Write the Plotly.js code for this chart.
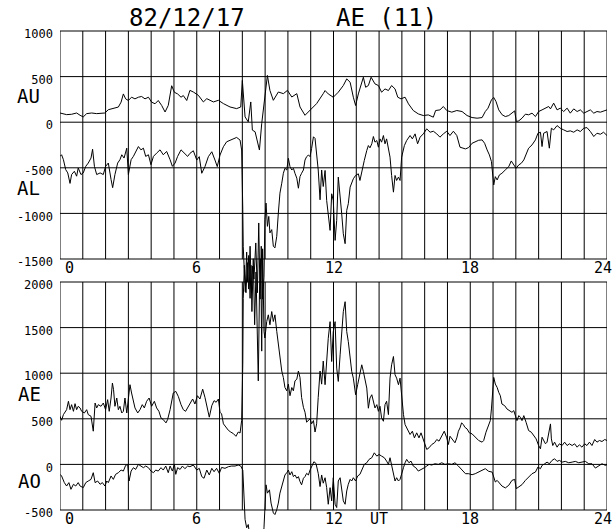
<!DOCTYPE html>
<html>
<head>
<meta charset="utf-8">
<script src="https://cdn.plot.ly/plotly-3.0.1.min.js"></script>
<style>html,body{margin:0;padding:0;background:#fff;}#chart{width:614px;height:529px;}</style>
</head>
<body>
<div id="chart"></div>
<script>
// ---------------- data (UT hours, nT) ----------------
const tAU = [0,0.15,0.29,0.51,0.73,0.88,1.02,1.17,1.39,1.61,1.83,1.97,2.12,2.27,2.41,2.56,2.68,2.78,2.88,3.00,3.14,3.29,3.44,3.58,3.73,3.88,4.02,4.17,4.31,4.46,4.61,4.75,4.90,5.02,5.16,5.31,5.41,5.56,5.70,5.85,6.07,6.29,6.44,6.73,6.95,7.17,7.46,7.75,7.93,8.00,8.12,8.26,8.37,8.44,8.56,8.63,8.75,8.85,8.99,9.10,9.21,9.36,9.58,9.80,9.98,10.17,10.39,10.53,10.75,10.97,11.26,11.55,11.63,11.77,11.99,12.21,12.43,12.58,12.73,12.87,12.97,13.09,13.24,13.31,13.41,13.53,13.65,13.82,13.97,14.11,14.26,14.41,14.55,14.70,14.82,14.96,15.14,15.29,15.50,15.72,15.94,16.16,16.38,16.48,16.67,16.82,16.97,17.19,17.41,17.64,17.86,18.08,18.30,18.52,18.66,18.78,18.93,19.03,19.13,19.25,19.40,19.54,19.69,19.83,19.95,20.02,20.13,20.27,20.42,20.56,20.71,20.86,21.00,21.15,21.30,21.44,21.52,21.66,21.81,21.95,22.10,22.25,22.39,22.54,22.69,22.83,22.98,23.12,23.27,23.42,23.56,23.71,23.85,24.00];
const AU = [101,94,83,87,101,76,58,94,101,94,101,101,137,148,159,166,220,310,256,238,274,256,274,282,256,274,220,202,238,184,112,184,400,328,310,274,292,238,349,331,295,222,258,222,240,204,167,149,167,458,58,4,222,-87,-105,-178,-305,-15,313,513,349,240,331,313,349,276,313,167,76,131,204,313,347,310,274,329,402,475,438,274,183,310,456,493,383,402,493,420,402,329,365,347,402,365,274,256,274,201,128,91,73,80,55,128,135,172,128,110,128,117,73,51,44,51,117,154,245,271,227,135,81,62,73,99,124,7,15,44,88,81,99,62,117,135,154,172,146,209,135,154,117,154,99,146,117,135,99,117,135,99,117,110,124,135];

const tAL = [0,0.07,0.15,0.25,0.34,0.44,0.51,0.63,0.73,0.80,0.92,1.02,1.13,1.24,1.36,1.43,1.51,1.61,1.76,1.90,2.00,2.12,2.24,2.31,2.41,2.53,2.63,2.71,2.81,2.93,3.00,3.12,3.22,3.33,3.44,3.55,3.66,3.76,3.88,3.99,4.10,4.24,4.39,4.53,4.68,4.83,4.93,5.05,5.16,5.31,5.46,5.60,5.70,5.85,6.00,6.11,6.22,6.36,6.51,6.66,6.80,6.90,7.02,7.17,7.31,7.53,7.75,7.90,7.97,8.02,8.04,8.09,8.16,8.22,8.28,8.34,8.40,8.45,8.51,8.59,8.66,8.72,8.78,8.83,8.89,8.95,8.99,9.04,9.10,9.16,9.21,9.29,9.36,9.43,9.51,9.58,9.65,9.73,9.80,9.87,9.95,10.02,10.09,10.17,10.24,10.31,10.39,10.46,10.53,10.60,10.68,10.75,10.82,10.90,10.97,11.04,11.12,11.19,11.26,11.33,11.41,11.48,11.55,11.63,11.70,11.77,11.85,11.92,11.99,12.07,12.14,12.21,12.29,12.36,12.43,12.51,12.58,12.65,12.73,12.87,12.97,13.09,13.16,13.27,13.35,13.46,13.53,13.60,13.68,13.75,13.82,13.90,13.97,14.04,14.11,14.19,14.26,14.33,14.41,14.48,14.55,14.63,14.70,14.77,14.85,14.92,14.99,15.11,15.21,15.36,15.46,15.58,15.69,15.80,15.94,16.09,16.24,16.38,16.53,16.67,16.82,16.97,17.11,17.26,17.41,17.55,17.79,17.93,18.08,18.22,18.37,18.52,18.63,18.74,18.84,18.93,18.99,19.03,19.10,19.18,19.28,19.39,19.54,19.69,19.80,19.91,20.01,20.13,20.24,20.35,20.46,20.56,20.71,20.86,20.97,21.08,21.15,21.22,21.37,21.47,21.56,21.66,21.81,21.95,22.10,22.25,22.39,22.54,22.69,22.83,22.98,23.12,23.27,23.42,23.56,23.71,23.85,24.00];
const AL = [-375,-357,-411,-520,-556,-671,-574,-538,-592,-502,-574,-556,-484,-448,-393,-296,-484,-574,-556,-574,-484,-448,-628,-718,-574,-448,-411,-357,-393,-285,-574,-411,-375,-321,-267,-303,-285,-375,-357,-466,-375,-339,-303,-357,-321,-411,-484,-448,-375,-303,-339,-375,-342,-313,-415,-378,-560,-487,-378,-324,-415,-487,-360,-269,-215,-189,-167,-196,-305,-960,-1360,-1650,-1870,-1540,-1830,-1360,-1870,-1578,-1720,-1324,-1870,-1105,-1940,-1360,-1940,-1700,-1069,-887,-1142,-1033,-1214,-1178,-1360,-1378,-1251,-996,-778,-669,-560,-505,-524,-396,-487,-524,-505,-560,-614,-724,-596,-560,-524,-415,-378,-360,-378,-287,-160,-178,-342,-524,-851,-524,-705,-529,-858,-1040,-1186,-785,-858,-1296,-1077,-602,-785,-1004,-1223,-1332,-967,-894,-712,-620,-584,-566,-639,-493,-420,-310,-256,-281,-237,-157,-219,-201,-274,-183,-219,-146,-237,-183,-274,-383,-584,-767,-584,-639,-602,-639,-383,-256,-201,-146,-183,-128,-237,-164,-128,-73,-110,-99,-128,-164,-128,-99,-146,-99,-146,-274,-293,-278,-231,-212,-198,-194,-231,-304,-359,-432,-597,-688,-597,-633,-578,-560,-523,-487,-425,-468,-505,-468,-450,-414,-340,-285,-249,-194,-121,-110,-267,-121,-102,-285,-66,-84,-37,-66,-84,-102,-95,-110,-84,-102,-66,-59,-102,-157,-121,-132,-110,-146];

const tAE = [0,0.07,0.15,0.22,0.29,0.37,0.44,0.51,0.59,0.66,0.73,0.80,0.88,0.95,1.07,1.17,1.24,1.36,1.46,1.54,1.61,1.68,1.80,1.90,2.00,2.09,2.16,2.24,2.30,2.35,2.41,2.49,2.56,2.63,2.71,2.78,2.85,2.93,3.00,3.07,3.14,3.22,3.29,3.41,3.51,3.61,3.70,3.80,3.91,4.02,4.14,4.24,4.34,4.43,4.53,4.65,4.72,4.83,4.90,4.97,5.08,5.19,5.31,5.41,5.51,5.63,5.70,5.82,5.92,6.03,6.14,6.26,6.36,6.47,6.55,6.66,6.76,6.85,6.95,7.02,7.09,7.17,7.28,7.39,7.49,7.61,7.72,7.82,7.90,7.97,8.02,8.04,8.09,8.13,8.19,8.23,8.28,8.34,8.38,8.42,8.48,8.54,8.60,8.66,8.70,8.75,8.81,8.85,8.89,8.95,8.99,9.07,9.14,9.21,9.29,9.36,9.43,9.51,9.58,9.65,9.73,9.80,9.87,9.95,10.02,10.09,10.17,10.24,10.31,10.39,10.46,10.53,10.60,10.68,10.75,10.82,10.90,10.97,11.04,11.12,11.19,11.26,11.33,11.41,11.48,11.55,11.63,11.70,11.77,11.85,11.92,11.99,12.07,12.14,12.21,12.29,12.36,12.43,12.51,12.58,12.65,12.73,12.80,12.87,12.97,13.06,13.16,13.24,13.31,13.38,13.46,13.53,13.60,13.68,13.75,13.82,13.90,13.97,14.04,14.11,14.19,14.26,14.33,14.41,14.48,14.55,14.63,14.70,14.77,14.85,14.92,14.99,15.07,15.14,15.21,15.29,15.36,15.46,15.55,15.65,15.75,15.84,15.94,16.02,16.09,16.19,16.31,16.43,16.53,16.63,16.75,16.86,16.97,17.04,17.11,17.21,17.33,17.41,17.48,17.55,17.62,17.70,17.76,17.86,17.96,18.08,18.22,18.37,18.52,18.59,18.69,18.81,18.88,18.93,18.99,19.03,19.10,19.18,19.25,19.32,19.39,19.51,19.61,19.72,19.83,19.91,19.98,20.05,20.13,20.20,20.27,20.35,20.45,20.56,20.68,20.78,20.89,21.00,21.08,21.15,21.22,21.30,21.37,21.44,21.52,21.56,21.62,21.70,21.81,21.91,22.03,22.14,22.25,22.35,22.47,22.58,22.69,22.79,22.90,23.02,23.12,23.23,23.34,23.46,23.56,23.67,23.78,23.90,24.00];
const AE = [528,484,546,582,600,692,600,655,582,666,600,637,619,582,564,600,546,528,364,673,619,655,637,673,600,710,582,728,892,819,637,728,600,637,564,582,728,564,764,874,783,673,619,564,600,655,619,692,728,637,692,619,582,510,491,455,491,600,710,783,801,746,655,600,582,637,662,717,662,753,717,825,735,590,518,644,699,681,717,572,554,445,409,373,355,337,308,355,344,481,1097,1821,2183,1893,2328,2002,2291,1821,2183,1676,2255,1531,2110,1350,916,1857,2255,1242,2364,1459,1386,1567,1640,1531,1676,1567,1640,1459,1314,1133,1024,952,843,807,880,753,843,807,916,934,1024,952,735,626,572,463,481,500,445,481,355,445,735,1024,880,1133,874,1165,1383,1565,1128,1456,1565,1056,910,1201,1492,1674,1784,1456,1347,1165,1019,946,764,874,983,1092,1019,946,837,616,728,764,692,619,655,582,637,510,473,655,692,546,946,1092,1183,983,946,874,946,728,546,437,400,364,328,364,291,346,291,346,273,218,164,182,218,237,273,255,309,364,291,218,309,273,237,291,364,400,455,437,408,389,346,335,298,262,244,262,353,444,480,608,899,954,881,844,790,753,662,644,608,590,571,590,535,480,535,517,480,535,462,371,353,317,280,207,171,298,262,226,244,335,444,280,207,244,189,226,207,244,207,226,207,226,189,215,189,226,207,244,207,273,244,262,251,273,262];

const tAO = [0,0.07,0.19,0.29,0.39,0.48,0.59,0.69,0.80,0.88,1.02,1.13,1.24,1.36,1.46,1.54,1.65,1.76,1.86,1.97,2.05,2.12,2.24,2.34,2.44,2.56,2.68,2.78,2.88,2.97,3.03,3.12,3.22,3.32,3.44,3.55,3.66,3.76,3.88,3.99,4.10,4.20,4.31,4.43,4.53,4.64,4.75,4.83,4.93,5.02,5.08,5.16,5.27,5.37,5.48,5.60,5.70,5.85,6.00,6.11,6.22,6.32,6.44,6.55,6.66,6.76,6.87,6.99,7.09,7.24,7.39,7.53,7.68,7.82,7.93,8.02,8.07,8.12,8.19,8.26,8.34,8.48,8.63,8.78,8.89,8.95,9.04,9.10,9.19,9.26,9.36,9.43,9.51,9.58,9.65,9.73,9.80,9.87,9.95,10.02,10.09,10.17,10.24,10.31,10.39,10.46,10.53,10.60,10.68,10.75,10.82,10.90,10.97,11.04,11.14,11.23,11.33,11.41,11.48,11.55,11.63,11.70,11.77,11.85,11.92,11.99,12.07,12.14,12.21,12.29,12.36,12.43,12.51,12.58,12.65,12.73,12.80,12.87,12.97,13.06,13.16,13.27,13.35,13.46,13.56,13.68,13.79,13.90,14.00,14.11,14.23,14.33,14.41,14.48,14.55,14.63,14.70,14.77,14.85,14.92,14.99,15.07,15.14,15.21,15.31,15.40,15.50,15.61,15.72,15.87,15.99,16.09,16.19,16.31,16.45,16.60,16.75,16.89,17.04,17.19,17.33,17.48,17.62,17.79,17.93,18.08,18.22,18.37,18.52,18.66,18.81,18.96,19.03,19.10,19.18,19.28,19.39,19.54,19.69,19.83,19.95,20.02,20.13,20.27,20.42,20.56,20.71,20.86,20.97,21.08,21.15,21.27,21.37,21.47,21.59,21.70,21.81,21.91,22.03,22.17,22.32,22.47,22.61,22.76,22.90,23.05,23.20,23.34,23.49,23.64,23.78,23.93,24.00];
const AO = [-109,-127,-200,-237,-200,-273,-218,-237,-200,-237,-255,-200,-182,-164,-91,-200,-182,-218,-200,-237,-182,-200,-127,-164,-109,-91,-62,-73,-11,0,-182,-73,-36,-55,0,-18,-36,-18,-36,-73,-91,-62,-73,-36,-62,-18,-91,-18,-73,0,-109,-36,-55,-18,-47,-18,-25,-7,-62,-43,-134,-152,-62,-116,-43,-80,-43,-98,-33,-43,-25,-18,-18,-7,-18,-62,-351,-604,-695,-659,-820,-900,-880,-950,-900,-695,-224,-315,-279,-424,-532,-550,-496,-424,-315,-243,-170,-116,-91,-62,-116,-80,-134,-116,-152,-134,-188,-224,-152,-134,-98,-116,-62,-25,29,11,-98,-243,-116,-206,-146,-255,-437,-255,-400,-146,-437,-473,-182,-146,-291,-400,-437,-291,-218,-164,-182,-146,-182,-127,-109,-36,0,18,55,73,127,91,109,91,73,36,0,73,-18,-109,-182,-146,-182,-164,-91,-36,18,55,18,36,-18,-36,-73,-55,-36,-18,0,-7,7,0,18,0,7,0,18,-18,-55,-102,-102,-113,-102,-84,-66,-47,-76,-84,-138,-193,-175,-211,-237,-258,-229,-175,-164,-266,-248,-222,-175,-138,-102,-84,-29,-47,-11,7,25,7,44,62,33,44,25,33,18,25,33,18,25,33,7,7,-40,-18,7,-11,-4];

// tick labels
const topYTicks = [1000, 500, 0, -500, -1000, -1500];
const botYTicks = [2000, 1500, 1000, 500, 0, -500];
const topXTicks = [0, 6, 12, 18, 24];
const topXText = ['0', '6', '12', '18', '24'];
const botXTicks = [0, 6, 12, 14, 18, 24];
const botXText = ['0', '6', '12', 'UT', '18', '24'];
const titleDate = '82/12/17';
const titleIndex = 'AE (11)';
const panelLabels = ['AU', 'AL', 'AE', 'AO'];

// ---------------- layout geometry (pixels) ----------------
const W = 614, H = 529, ML = 60, MR = 7;
const PW = W - ML - MR;
const topPx = {vTop: 1000, vBot: -1500, yTop: 31, yBot: 259};
const botPx = {vTop: 2000, vBot: -500, yTop: 282, yBot: 510};
function rangeFor(p) {
  const upp = (p.vTop - p.vBot) / (p.yBot - p.yTop);
  return [p.vBot - (H - p.yBot) * upp, p.vTop + p.yTop * upp];
}
const px = x => (x - ML) / PW;
const py = y => (H - y) / H;

const black = '#000';
const lineStyle = {color: black, width: 1};

const traces = [
  {x: tAU, y: AU, xaxis: 'x', yaxis: 'y'},
  {x: tAL, y: AL, xaxis: 'x', yaxis: 'y'},
  {x: tAE, y: AE, xaxis: 'x2', yaxis: 'y2'},
  {x: tAO, y: AO, xaxis: 'x2', yaxis: 'y2'}
].map(t => Object.assign(t, {type: 'scatter', mode: 'lines', line: lineStyle, hoverinfo: 'skip'}));

// grid (frame + hourly verticals + horizontal levels)
const shapes = [];
const hours = Array.from({length: 25}, (_, i) => i);
function addGrid(xr, yr, levels, lo, hi) {
  levels.forEach(v => shapes.push({type: 'line', xref: xr, yref: yr, x0: 0, x1: 24, y0: v, y1: v, line: {color: black, width: 1}, layer: 'below'}));
  hours.forEach(h => shapes.push({type: 'line', xref: xr, yref: yr, x0: h, x1: h, y0: lo, y1: hi, line: {color: black, width: 1}, layer: 'below'}));
}
addGrid('x', 'y', topYTicks, -1500, 1000);
addGrid('x2', 'y2', botYTicks, -500, 2000);

const mono = 'DejaVu Sans Mono, Liberation Mono, monospace';
const yTickFont = {family: mono, size: 12, color: black};
const xTickFont = {family: mono, size: 15, color: black};

const annotations = [
  {text: titleDate, x: px(187), y: py(18), size: 24},
  {text: titleIndex, x: px(386), y: py(18), size: 24},
  {text: panelLabels[0], x: px(28), y: py(96), size: 19},
  {text: panelLabels[1], x: px(28), y: py(187.5), size: 19},
  {text: panelLabels[2], x: px(29), y: py(393.5), size: 19},
  {text: panelLabels[3], x: px(29), y: py(481), size: 19}
].map(a => ({text: a.text, x: a.x, y: a.y, xref: 'paper', yref: 'paper', xanchor: 'center', yanchor: 'middle',
  borderpad: 0, showarrow: false, font: {family: mono, size: a.size, color: black}}));

// hour labels under each panel (first label sits right of the frame, last one inside the page)
function hourLabels(vals, texts, xr, yTopPx) {
  vals.forEach((v, i) => {
    const first = i === 0, last = i === vals.length - 1;
    annotations.push({text: texts[i], x: v, xref: xr, y: py(yTopPx), yref: 'paper',
      xanchor: first ? 'left' : (last ? 'right' : 'center'), xshift: first ? 4 : (last ? 6 : 0),
      yanchor: 'top', borderpad: 0, showarrow: false, font: xTickFont});
  });
}
hourLabels(topXTicks, topXText, 'x', 258);
hourLabels(botXTicks, botXText, 'x2', 509);

const axBase = {showgrid: false, zeroline: false, showline: false, ticks: '', fixedrange: true};

const layout = {
  width: W, height: H,
  margin: {l: ML, r: MR, t: 0, b: 0, pad: 0},
  paper_bgcolor: '#fff', plot_bgcolor: '#fff',
  showlegend: false,
  xaxis: Object.assign({}, axBase, {range: [0, 24], showticklabels: false}),
  xaxis2: Object.assign({}, axBase, {range: [0, 24], overlaying: 'x', showticklabels: false}),
  yaxis: Object.assign({}, axBase, {range: rangeFor(topPx), anchor: 'x', tickmode: 'array',
    tickvals: topYTicks, ticktext: topYTicks.map(String), tickfont: yTickFont, ticklabelstandoff: 6, ticklabelshift: 3}),
  yaxis2: Object.assign({}, axBase, {range: rangeFor(botPx), anchor: 'x2', overlaying: 'y', side: 'left', tickmode: 'array',
    tickvals: botYTicks, ticktext: botYTicks.map(String), tickfont: yTickFont, ticklabelstandoff: 6, ticklabelshift: 3}),
  shapes: shapes,
  annotations: annotations
};

Plotly.newPlot('chart', traces, layout, {staticPlot: true, displayModeBar: false});
</script>
</body>
</html>
